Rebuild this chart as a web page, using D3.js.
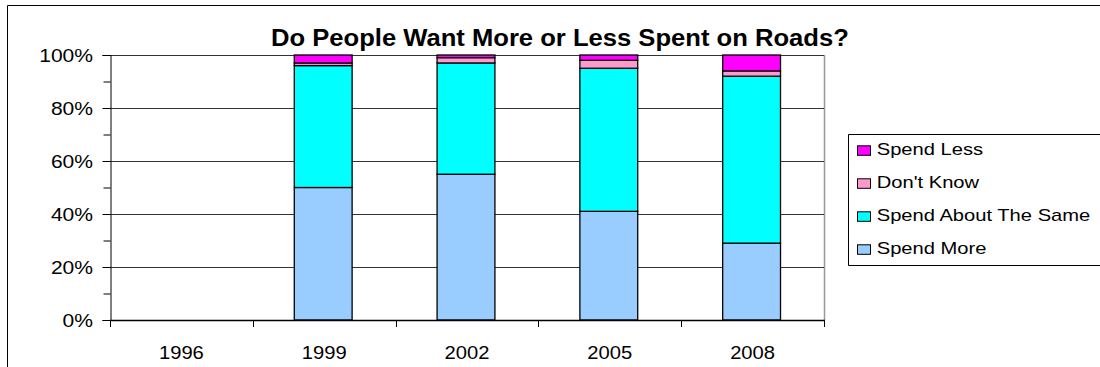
<!DOCTYPE html>
<html>
<head>
<meta charset="utf-8">
<script src="https://cdn.jsdelivr.net/npm/d3@7"></script>
<style>
  html, body { margin: 0; padding: 0; background: #fff; }
  svg { display: block; font-family: "Liberation Sans", Arial, sans-serif; }
</style>
</head>
<body>
<svg id="chart" width="1100" height="367"></svg>
<script>
const years = ["1996", "1999", "2002", "2005", "2008"];
const spendMore = [null, 50, 55, 41, 29];
const spendSame = [null, 46, 42, 54, 63];
const dontKnow = [null, 1, 2, 3, 2];
const spendLess = [null, 3, 1, 2, 6];
const seriesNames = ["Spend More", "Spend About The Same", "Don't Know", "Spend Less"];
const seriesColors = ["#99CCFF", "#00FFFF", "#FF99CC", "#FF00FF"];
const yMajorTicks = [0, 20, 40, 60, 80, 100];
const yMinorTicks = [10, 30, 50, 70, 90];
const titleText = "Do People Want More or Less Spent on Roads?";

const svg = d3.select("#chart");
const pLeft = 110, pRight = 824, pTop = 55, pBottom = 320;

// horizontal stretch of text (the reference's text is wide)
function hstretch(sel, f) {
  sel.each(function () {
    const t = d3.select(this);
    const x0 = +t.attr("x") || 0;
    t.attr("x", x0 / f).attr("transform", `scale(${f},1)`);
  });
}

// outer chart border
svg.append("path")
  .attr("d", "M7.5,367 L7.5,5.5 L1100,5.5")
  .attr("fill", "none").attr("stroke", "#000").attr("stroke-width", 1);

const x = d3.scaleBand().domain(years).range([pLeft, pRight]).padding(0);
const y = d3.scaleLinear().domain([0, 100]).range([pBottom, pTop]);

// plot border (gray right side)
svg.append("line").attr("x1", pRight + 0.5).attr("x2", pRight + 0.5)
  .attr("y1", pTop).attr("y2", pBottom).attr("stroke", "#999").attr("stroke-width", 1.5);

// gridlines
svg.append("g").selectAll("line").data(yMajorTicks.filter(d => d > 0)).join("line")
  .attr("x1", pLeft).attr("x2", pRight)
  .attr("y1", d => Math.round(y(d)) + 0.5).attr("y2", d => Math.round(y(d)) + 0.5)
  .attr("stroke", "#333").attr("stroke-width", 1);

// stacked data
const table = years.map((yr, i) => ({
  year: yr,
  "Spend More": spendMore[i] || 0,
  "Spend About The Same": spendSame[i] || 0,
  "Don't Know": dontKnow[i] || 0,
  "Spend Less": spendLess[i] || 0,
  has: spendMore[i] != null
}));
const stack = d3.stack().keys(seriesNames)(table.filter(d => d.has));
const color = d3.scaleOrdinal().domain(seriesNames).range(seriesColors);
const barW = x.bandwidth() * 0.405;

svg.append("g").selectAll("g").data(stack).join("g")
  .attr("fill", d => color(d.key))
  .selectAll("rect").data(d => d).join("rect")
  .attr("x", d => x(d.data.year) + (x.bandwidth() - barW) / 2 - 1)
  .attr("width", barW)
  .attr("y", d => y(d[1]))
  .attr("height", d => y(d[0]) - y(d[1]))
  .attr("stroke", "#000").attr("stroke-width", 1.3);

// y axis
const yAxis = d3.axisLeft(y).tickValues(yMajorTicks).tickFormat(d => d + "%").tickSize(8).tickPadding(9.5);
const gy = svg.append("g").attr("transform", `translate(${pLeft + 0.5},0)`).call(yAxis);
gy.select(".domain").attr("stroke", "#000");
const yLab = gy.selectAll("text").attr("font-size", 17.7).attr("fill", "#000")
  .attr("font-family", "'Liberation Sans', Arial, sans-serif").attr("dy", "0.36em");
hstretch(yLab, 1.19);
svg.append("g").attr("transform", `translate(${pLeft + 0.5},0)`)
  .call(d3.axisLeft(y).tickValues(yMinorTicks).tickSize(7).tickFormat(""))
  .select(".domain").remove();

// x axis
const xTickPos = years.map(d => x(d)).concat([pRight]);
svg.append("line").attr("x1", pLeft).attr("x2", pRight + 1)
  .attr("y1", pBottom + 0.5).attr("y2", pBottom + 0.5).attr("stroke", "#000").attr("stroke-width", 1.5);
svg.append("g").selectAll("line").data(xTickPos).join("line")
  .attr("x1", d => Math.round(d) + 0.5).attr("x2", d => Math.round(d) + 0.5)
  .attr("y1", pBottom).attr("y2", pBottom + 7).attr("stroke", "#000");
const xLab = svg.append("g").selectAll("text").data(years).join("text")
  .attr("x", d => x(d) + x.bandwidth() / 2)
  .attr("y", 359)
  .attr("text-anchor", "middle")
  .attr("font-size", 18.2)
  .text(d => d);
hstretch(xLab, 1.11);

// title
const title = svg.append("text").attr("x", 0).attr("y", 46)
  .attr("text-anchor", "start").attr("font-size", 23.3).attr("font-weight", "bold")
  .text(titleText);
const tw = title.node().getComputedTextLength();
const tf = 578 / tw;
title.attr("x", 271 / tf).attr("transform", `scale(${tf},1)`);

// legend
const lg = svg.append("g");
lg.append("path").attr("d", "M1100,134.5 L848.5,134.5 L848.5,265.5 L1100,265.5")
  .attr("fill", "#fff").attr("stroke", "#000");
const legendItems = seriesNames.slice().reverse();
const li = lg.selectAll("g.item").data(legendItems).join("g")
  .attr("transform", (d, i) => `translate(0,${155.3 + i * 33})`);
li.append("rect").attr("x", 857.5).attr("y", -9.5).attr("width", 13).attr("height", 9.5)
  .attr("fill", d => color(d)).attr("stroke", "#000");
const lt = li.append("text").attr("x", 876.7).attr("y", 0).attr("font-size", 16).text(d => d);
hstretch(lt, 1.26);
</script>
</body>
</html>
